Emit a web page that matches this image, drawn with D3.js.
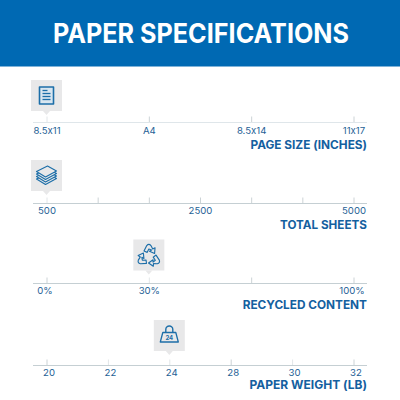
<!DOCTYPE html>
<html>
<head>
<meta charset="utf-8">
<script src="https://cdn.jsdelivr.net/npm/d3@7"></script>
<style>
html, body { margin: 0; padding: 0; background: #fff; }
svg { display: block; }
/* Inter turns the x in 8.5x11 into a times sign without this */
text { font-family: Inter, "Noto Sans", sans-serif; font-feature-settings: "calt" 0; }
</style>
</head>
<body>
<div id="vis"></div>
<script>
// chart values
const PAGE_SIZE_LABELS = ["8.5x11", "A4", "8.5x14", "11x17"];
const SHEET_LABELS = ["500", "", "", "2500", "", "", "5000"];
const RECYCLED_LABELS = ["0%", "30%", "", "100%"];
const WEIGHT_LABELS = ["20", "22", "24", "28", "30", "32"];

const SELECTED_SIZE = 0;
const SELECTED_SHEETS = 0;
const SELECTED_RECYCLED = 1;
const SELECTED_WEIGHT = 2;

const TITLE = "PAPER SPECIFICATIONS";
const WEIGHT_BADGE = "24";

// declare constants
const FRAME_SIZE = 400;
const BLUE = "#0069b3";
const INK = "#1f6296";
const ICON = "#1c6ea8";
const X_START = 46.5;
const X_END = 353.5;
const LINE_LEFT = 33;
const LINE_RIGHT = 367;

const SVG = d3.select("#vis")
	.append("svg")
		.attr("width", FRAME_SIZE)
		.attr("height", FRAME_SIZE);

// header band
SVG.append("rect")
	.attr("width", FRAME_SIZE)
	.attr("height", 66.5)
	.attr("fill", BLUE);

SVG.append("text")
	.attr("x", 201)
	.attr("y", 42.5)
	.attr("text-anchor", "middle")
	.attr("font-size", 26.5)
	.attr("font-weight", 700)
	.attr("textLength", 296)
	.attr("lengthAdjust", "spacingAndGlyphs")
	.attr("fill", "#fff")
	.text(TITLE);

// one scale row: axis, tick labels, title and the callout box
function drawRow(row) {
	const X_SCALE = d3.scalePoint()
		.domain(row.labels.map((d, i) => i))
		.range([X_START, X_END]);

	const G = SVG.append("g")
		.attr("transform", "translate(0," + row.y + ")");

	const AXIS = G.append("g")
		.call(d3.axisBottom(X_SCALE)
			.tickSizeOuter(0)
			.tickSizeInner(-6)
			.tickFormat((i) => row.labels[i]));

	AXIS.select(".domain").remove();
	AXIS.selectAll("line")
		.attr("stroke", (i) => (i === row.selected || row.faded.includes(i)) ? "#e2e6e8" : "#ccd3d6")
		.attr("stroke-width", 1);
	AXIS.selectAll("text")
		.attr("y", row.labelY)
		.attr("dy", 0)
		.attr("dx", row.labelDx)
		.attr("font-family", "Inter, sans-serif")
		.attr("font-size", 9.6)
		.attr("fill", INK);

	G.append("line")
		.attr("x1", LINE_LEFT)
		.attr("x2", LINE_RIGHT)
		.attr("stroke", row.lineColor)
		.attr("stroke-width", 1);

	SVG.append("text")
		.attr("x", LINE_RIGHT)
		.attr("y", row.titleY)
		.attr("text-anchor", "end")
		.attr("font-size", row.titleSize)
		.attr("font-weight", 700)
		.attr("fill", "#14609f")
		.text(row.title);

	// callout box with a small pointer under it
	const CX = X_SCALE(row.selected);
	const BOX = SVG.append("g")
		.attr("transform", "translate(" + CX + "," + row.boxY + ")");

	BOX.append("rect")
		.attr("x", -15.5)
		.attr("y", 0)
		.attr("width", 31)
		.attr("height", 31)
		.attr("fill", "#e8e8e9");
	BOX.append("path")
		.attr("d", "M-3.5,31L0,35L3.5,31Z")
		.attr("fill", "#e8e8e9");

	row.icon(BOX.append("g")
		.attr("transform", "translate(0,15.5)")
		.attr("fill", "none")
		.attr("stroke", ICON)
		.attr("stroke-width", 1.1)
		.attr("stroke-linejoin", "round"));
}

// sheet of paper with text lines
function docIcon(g) {
	g.append("rect")
		.attr("x", -7).attr("y", -8.5)
		.attr("width", 14).attr("height", 17)
		.attr("fill", "#d8e6f0")
		.attr("stroke-width", 1.6);
	g.selectAll("path.rule")
		.data(["M-4,-5H1", "M-4,-2H4", "M-4,1H4", "M-4,4H4"])
		.enter()
		.append("path")
			.attr("d", (d) => d)
			.attr("stroke-width", 1.3);
}

// stack of sheets
function stackIcon(g) {
	g.selectAll("path.sheet")
		.data([6, 3.5, 1, -1.5])
		.enter()
		.append("path")
			.attr("transform", (d) => "translate(0," + d + ")")
			.attr("d", "M-10,-2.5L1,-8L10,-3L-1,3Z")
			.attr("fill", "#e8e8e9");
}

// three chasing arrows
function recycleIcon(g) {
	const ARROW = "M-4.2,-4.8L-1.8,-9.5Q0,-11.5 1.8,-9.5L3.4,-6.6L5.4,-7.6L5,-2.6L0.6,-4.6L2.4,-5.6L0,-6.5L-1.4,-3.6Z";
	g.selectAll("path.arrow")
		.data([0, 120, 240])
		.enter()
		.append("path")
			.attr("transform", (d) => "translate(0,1.5) scale(1.15) rotate(" + d + ")")
			.attr("stroke-width", 1);
	g.selectAll("path").attr("d", ARROW);
}

// weight with the basis number on it
function weightIcon(g) {
	g.append("path")
		.attr("d", "M-6.5,-3H6.5L9,6.5H-9Z")
		.attr("stroke-width", 1.3);
	g.append("path")
		.attr("d", "M-3.5,-3V-6A3.5,3.5 0 0 1 3.5,-6V-3")
		.attr("stroke-width", 1.4);
	g.append("text")
		.attr("x", 0)
		.attr("y", 4.2)
		.attr("text-anchor", "middle")
		.attr("font-size", 6)
		.attr("font-weight", 700)
		.attr("fill", ICON)
		.attr("stroke", "none")
		.text(WEIGHT_BADGE);
}

drawRow({labels: PAGE_SIZE_LABELS, selected: SELECTED_SIZE, faded: [], y: 122.5, labelY: 11, labelDx: 0,
	lineColor: "#dfe6ea", title: "PAGE SIZE (INCHES)", titleSize: 11.8, titleY: 148.5, boxY: 80, icon: docIcon});
drawRow({labels: SHEET_LABELS, selected: SELECTED_SHEETS, faded: [], y: 203.5, labelY: 10.7, labelDx: 0,
	lineColor: "#c5cfd3", title: "TOTAL SHEETS", titleSize: 11.7, titleY: 228.8, boxY: 160, icon: stackIcon});
drawRow({labels: RECYCLED_LABELS, selected: SELECTED_RECYCLED, faded: [], y: 283.5, labelY: 10.7,
	labelDx: (i) => i === SELECTED_RECYCLED ? 0 : -2,
	lineColor: "#c5cfd3", title: "RECYCLED CONTENT", titleSize: 11.8, titleY: 308.8, boxY: 239.5, icon: recycleIcon});
drawRow({labels: WEIGHT_LABELS, selected: SELECTED_WEIGHT, faded: [1, 4], y: 365.5, labelY: 10.7, labelDx: 2,
	lineColor: "#c5cfd3", title: "PAPER WEIGHT (LB)", titleSize: 12, titleY: 388.7, boxY: 320, icon: weightIcon});
</script>
</body>
</html>
